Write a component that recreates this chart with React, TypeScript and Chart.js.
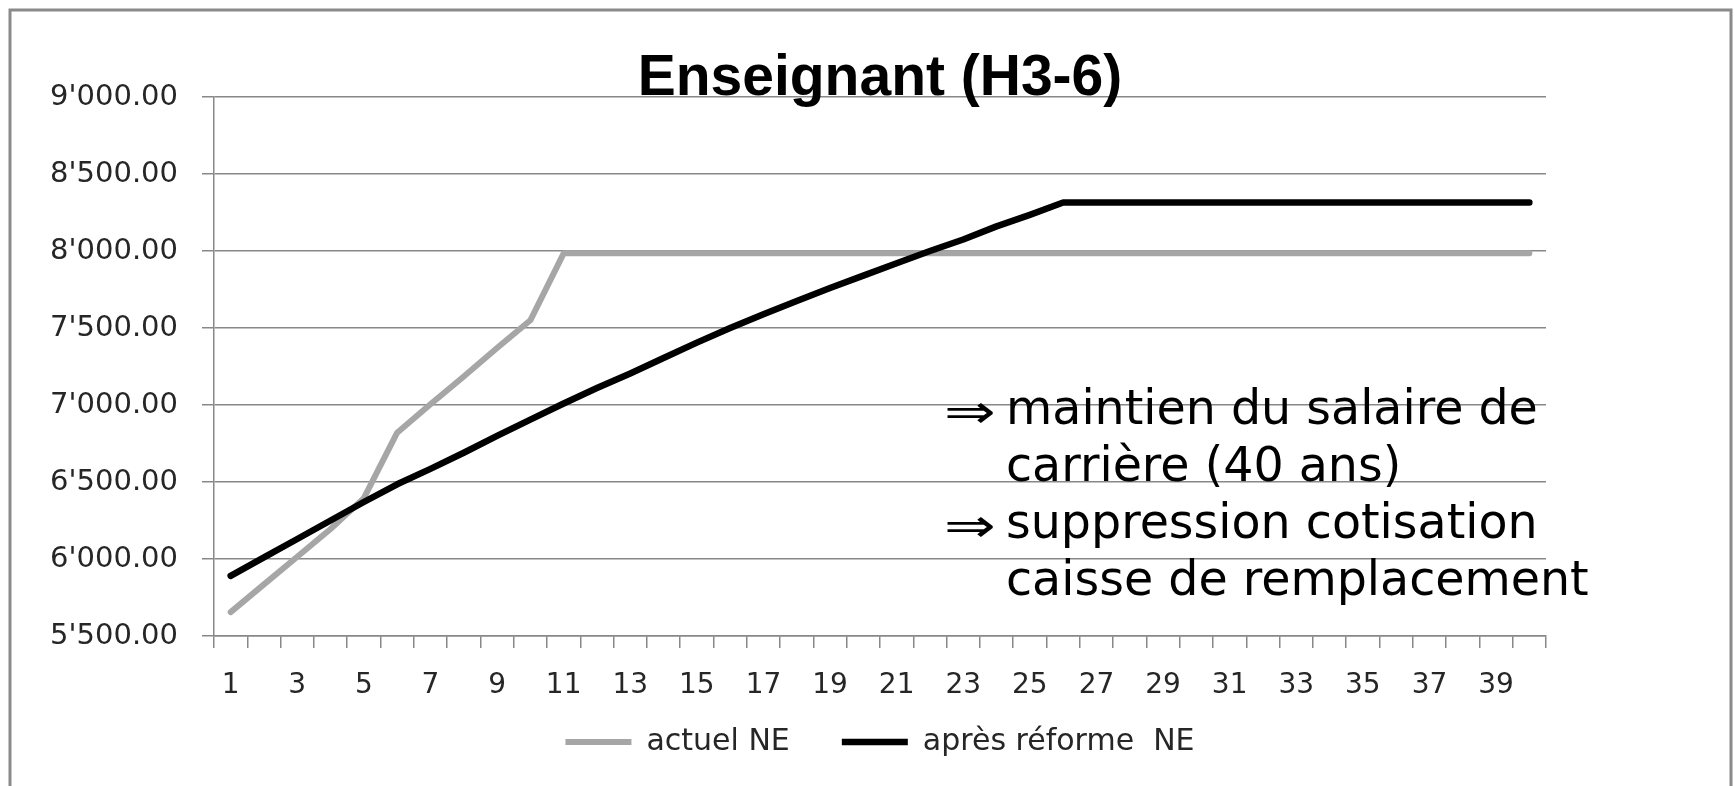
import React, { useEffect, useRef } from "react";
import { Chart, registerables } from "chart.js";

Chart.register(...registerables);

// ---------------- data ----------------
const TITLE = "Enseignant (H3-6)";

const CATEGORIES = [
  "1", "2", "3", "4", "5", "6", "7", "8", "9", "10",
  "11", "12", "13", "14", "15", "16", "17", "18", "19", "20",
  "21", "22", "23", "24", "25", "26", "27", "28", "29", "30",
  "31", "32", "33", "34", "35", "36", "37", "38", "39", "40",
];

const SERIES_LABELS = ["actuel NE", "après réforme  NE"];

const ACTUEL_NE = [
  5655, 5835, 6015, 6195, 6395, 6820, 7005, 7185, 7370, 7550,
  7985, 7985, 7985, 7985, 7985, 7985, 7985, 7985, 7985, 7985,
  7985, 7985, 7985, 7985, 7985, 7985, 7985, 7985, 7985, 7985,
  7985, 7985, 7985, 7985, 7985, 7985, 7985, 7985, 7985, 7985,
];

const APRES_REFORME_NE = [
  5890, 6010, 6130, 6250, 6370, 6485, 6585, 6690, 6800, 6905,
  7010, 7110, 7205, 7305, 7405, 7500, 7590, 7675, 7760, 7840,
  7920, 8000, 8075, 8160, 8235, 8315, 8315, 8315, 8315, 8315,
  8315, 8315, 8315, 8315, 8315, 8315, 8315, 8315, 8315, 8315,
];

const Y_MIN = 5500;
const Y_MAX = 9000;
const Y_STEP = 500;

const NOTE_LINES = [
  { arrow: true, text: "maintien du salaire de" },
  { arrow: false, text: "carrière (40 ans)" },
  { arrow: true, text: "suppression cotisation" },
  { arrow: false, text: "caisse de remplacement" },
];
const ARROW = "\u21D2";

// ---------------- styles ----------------
const W = 1735;
const H = 786;
const GRID = "#888888";
const TEXT = "#262626";
const FONT = "'DejaVu Sans', Verdana, sans-serif";
const LEGEND_PAD = 52;
const LEGEND_FONT = 30;

function formatAmount(v: number): string {
  const fixed = Number(v).toFixed(2);
  const [intPart, dec] = fixed.split(".");
  return intPart.replace(/\B(?=(\d{3})+(?!\d))/g, "'") + "." + dec;
}

const framePlugin = {
  id: "frame",
  beforeDraw(chart: any) {
    const ctx = chart.ctx;
    ctx.save();
    ctx.fillStyle = "#ffffff";
    ctx.fillRect(0, 0, chart.width, chart.height);
    ctx.strokeStyle = "#8a8a8a";
    ctx.lineWidth = 3;
    ctx.beginPath();
    ctx.moveTo(10, chart.height + 5);
    ctx.lineTo(10, 10);
    ctx.lineTo(chart.width - 4, 10);
    ctx.lineTo(chart.width - 4, chart.height + 5);
    ctx.stroke();
    ctx.restore();
  },
};

// moves the legend row so that it sits 106px below the plot bottom
const legendPlacePlugin = {
  id: "legendPlace",
  afterLayout(chart: any) {
    const lg = chart.legend;
    if (!lg) return;
    const wantedCenter = chart.chartArea.bottom + 106;
    const currentCenter = lg.top + LEGEND_PAD + LEGEND_FONT / 2;
    const shift = wantedCenter - currentCenter;
    lg.top += shift;
    lg.bottom += shift;
  },
};

const notePlugin = {
  id: "note",
  afterDraw(chart: any) {
    const { ctx, chartArea } = chart;
    const textX = chartArea.left + 792;
    const arrowX = chartArea.left + 730;
    const firstBaseline = chartArea.top + 326.5;
    const gap = 57.2;
    ctx.save();
    ctx.fillStyle = "#000000";
    ctx.font = `47.5px ${FONT}`;
    ctx.textAlign = "left";
    ctx.textBaseline = "alphabetic";
    NOTE_LINES.forEach((line, i) => {
      const y = firstBaseline + i * gap;
      if (line.arrow) {
        ctx.save();
        ctx.translate(arrowX, y + 4);
        ctx.scale(1.3, 1);
        ctx.fillText(ARROW, 0, 0);
        ctx.restore();
      }
      ctx.fillText(line.text, textX, y);
    });
    ctx.restore();
  },
};

export default function App() {
  const canvasRef = useRef<HTMLCanvasElement | null>(null);

  useEffect(() => {
    const canvas = canvasRef.current;
    if (!canvas) return;
    const chart = new Chart(canvas, {
      type: "line",
      data: {
        labels: CATEGORIES,
        datasets: [
          {
            label: SERIES_LABELS[0],
            data: ACTUEL_NE,
            borderColor: "#a6a6a6",
            backgroundColor: "#a6a6a6",
            borderWidth: 6,
            pointRadius: 0,
            borderCapStyle: "round",
            borderJoinStyle: "round",
            tension: 0,
            order: 1,
          },
          {
            label: SERIES_LABELS[1],
            data: APRES_REFORME_NE,
            borderColor: "#000000",
            backgroundColor: "#000000",
            borderWidth: 6.5,
            pointRadius: 0,
            borderCapStyle: "round",
            borderJoinStyle: "round",
            tension: 0,
            order: 0,
          },
        ],
      },
      options: {
        responsive: false,
        animation: false,
        devicePixelRatio: 1,
        layout: { padding: { top: 0, left: 46, right: 189, bottom: -8 } },
        plugins: {
          title: {
            display: true,
            text: TITLE,
            position: "top",
            align: "center",
            fullSize: false,
            color: "#000000",
            font: { family: "'Liberation Sans', Arial, sans-serif", size: 57, weight: "bold", lineHeight: 1.2 },
            padding: { top: 45, bottom: -16.4 },
          },
          legend: {
            display: true,
            position: "bottom",
            align: "center",
            fullSize: false,
            labels: {
              usePointStyle: true,
              pointStyle: "line",
              pointStyleWidth: 66,
              padding: LEGEND_PAD,
              color: TEXT,
              font: { family: FONT, size: LEGEND_FONT },
              sort: (a: any, b: any) => a.datasetIndex - b.datasetIndex,
            },
          },
          tooltip: { enabled: false },
        },
        scales: {
          x: {
            type: "category",
            offset: true,
            grid: {
              offset: true,
              drawOnChartArea: false,
              drawTicks: true,
              tickLength: 12,
              color: GRID,
              lineWidth: 1.5,
            },
            border: { display: true, color: GRID, width: 1.5 },
            ticks: {
              autoSkip: false,
              maxRotation: 0,
              minRotation: 0,
              padding: 21,
              color: TEXT,
              font: { family: FONT, size: 28 },
              callback: (_v: any, i: number) => (i % 2 === 0 ? CATEGORIES[i] : ""),
            },
            afterFit: (s: any) => {
              s.height = 66;
            },
          },
          y: {
            type: "linear",
            min: Y_MIN,
            max: Y_MAX,
            grid: {
              color: GRID,
              lineWidth: 1.5,
              drawTicks: true,
              tickLength: 12,
            },
            border: { display: true, color: GRID, width: 1.5 },
            ticks: {
              stepSize: Y_STEP,
              padding: 24,
              color: TEXT,
              font: { family: FONT, size: 29 },
              callback: (v: any) => formatAmount(Number(v)),
            },
            afterFit: (s: any) => {
              s.width = 168;
            },
          },
        },
      },
      plugins: [framePlugin, legendPlacePlugin, notePlugin],
    });
    return () => chart.destroy();
  }, []);

  return (
    <div style={{ position: "fixed", left: 0, top: 0, width: W, height: H, background: "#fff" }}>
      <canvas ref={canvasRef} width={W} height={H} style={{ display: "block", width: W, height: H }} />
    </div>
  );
}
